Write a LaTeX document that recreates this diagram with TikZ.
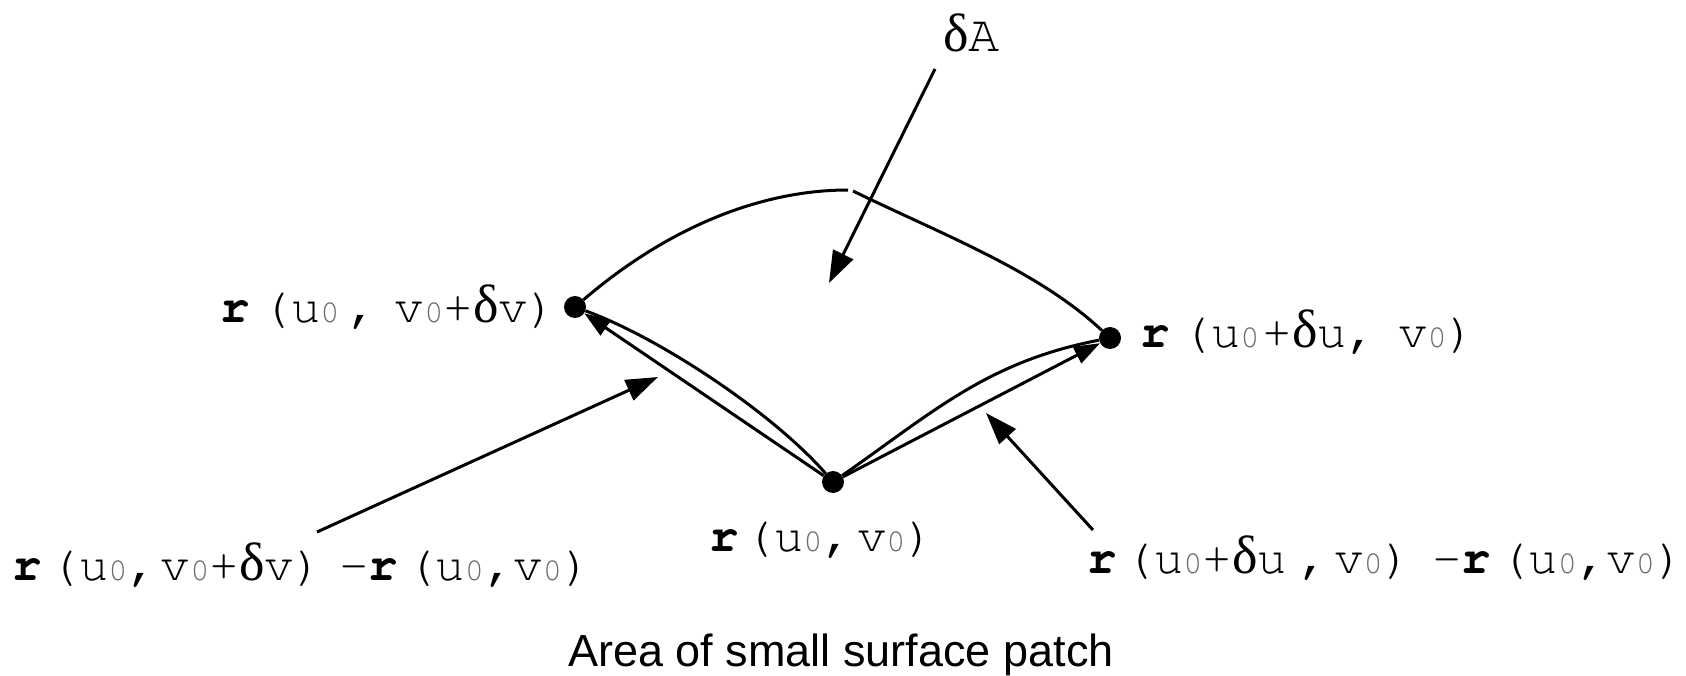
\documentclass[tikz,border=0pt]{standalone}
\usepackage[T1]{fontenc}
\usepackage{fontspec}
\usetikzlibrary{arrows.meta}
\newfontfamily\grk{Liberation Serif}
\setsansfont{Liberation Sans}
\definecolor{subgray}{gray}{0.42}
\newcommand\cou{\fontencoding{T1}\fontfamily{pcr}\fontseries{m}\fontshape{n}\fontsize{49}{52}\selectfont}
\newcommand\rb{{\fontseries{b}\selectfont r}}
\newcommand\zs{{\fontsize{32}{32}\selectfont\color{subgray}0}}
\newcommand\dlt{{\grk\fontsize{54}{54}\selectfont δ}}
\begin{document}
\begin{tikzpicture}[x=1pt,y=-1pt,
  dot/.style={circle,fill=black,inner sep=0pt,minimum size=22pt},
  curve/.style={line width=3pt},
  chord/.style={line width=3pt,-{Triangle[length=26pt,width=18pt]}},
  pointer/.style={line width=3pt,-{Triangle[length=32pt,width=22pt]}},
  lbl/.style={inner sep=0pt,anchor=base west,font=\cou}]
\useasboundingbox (0,0) rectangle (1686,676);
\node[dot] (L) at (575,307) {};
\node[dot] (R) at (1110,338) {};
\node[dot] (B) at (833,482) {};
\coordinate (P1) at (848,190);
\coordinate (P2) at (853,191);
\draw[curve] (L) .. controls (672,224) and (765,190) .. (P1);
\draw[curve] (P2) .. controls (943,235) and (1037,270) .. (R);
\draw[curve] (B) to[out=131,in=-20,looseness=0.7] (L);
\draw[chord] (B) -- (L);
\draw[curve] (B) to[out=35,in=191] (R);
\draw[chord] (B) -- (R);
\node[lbl] (lA) at (220,323) {\rb\kern12pt(u\zs\kern8pt,\kern18pt v\zs+\dlt v)};
\node[lbl] (lB) at (1140,347) {\rb\kern12pt(u\zs\kern3pt+\dlt u,\kern22pt v\zs)};
\node[lbl] (lC) at (709,551) {\rb\kern6pt(u\zs,\kern5pt v\zs)};
\node[lbl] (lD) at (12,580) {\rb\kern8pt(u\zs,\kern4pt v\zs+\dlt v)\kern16pt\textendash\rb\kern8pt(u\zs,v\zs)};
\node[lbl] (lE) at (1087,573) {\rb\kern8pt(u\zs+\dlt u\kern12pt,\kern6pt v\zs)\kern20pt\textendash\rb\kern8pt(u\zs,v\zs)};
\node[inner sep=0pt,anchor=base west] (dA) at (943,52) {\dlt{\cou\fontsize{52}{52}\selectfont A}};
\node[anchor=base,inner sep=0pt] (cap) at (841,666) {\sffamily\fontsize{45}{50}\selectfont Area of small surface patch};
\coordinate (sA) at (935,69);
\coordinate (tA) at (829,283);
\draw[pointer] (sA) -- (tA);
\coordinate (sL) at (317,532);
\coordinate (tL) at (658,377);
\draw[pointer] (sL) -- (tL);
\coordinate (sR) at (1093,530);
\coordinate (tR) at (986,413);
\draw[pointer] (sR) -- (tR);
\end{tikzpicture}
\end{document}
